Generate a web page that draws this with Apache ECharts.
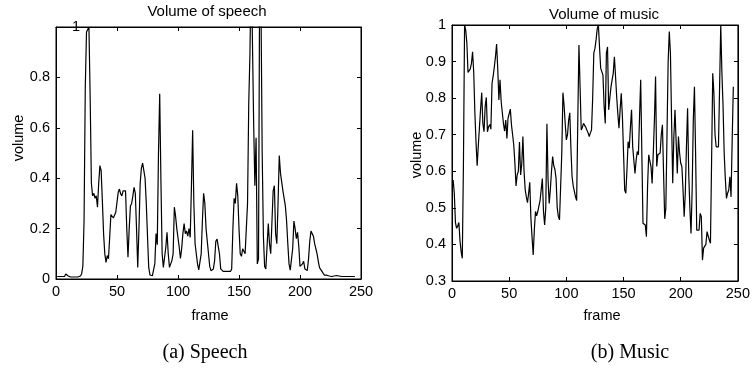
<!DOCTYPE html>
<html>
<head>
<meta charset="utf-8">
<script src="https://cdn.jsdelivr.net/npm/echarts@6/dist/echarts.min.js"></script>
<style>
html,body{margin:0;padding:0;background:#fff;}
#chart{width:753px;height:370px;}
</style>
</head>
<body>
<div id="chart"></div>
<script>
// Speech volume, frames 1..245
const speechVolume = [
0.01,0.012,0.01,0.012,0.01,0.008,0.01,0.02,0.018,0.012,
0.008,0.008,0.008,0.008,0.008,0.008,0.008,0.008,0.008,0.012,
0.02,0.05,0.23,0.76,0.98,0.98,1.0,0.72,0.38,0.33,
0.34,0.32,0.33,0.285,0.38,0.45,0.43,0.31,0.18,0.1,
0.066,0.093,0.08,0.165,0.256,0.25,0.242,0.245,0.265,0.305,
0.344,0.357,0.338,0.33,0.35,0.344,0.35,0.2,0.086,0.2,
0.29,0.3,0.33,0.364,0.34,0.2,0.046,0.2,0.38,0.44,
0.46,0.455,0.4,0.3,0.17,0.046,0.016,0.013,0.013,0.015,
0.06,0.18,0.136,0.5,0.735,0.39,0.1,0.046,0.044,0.126,
0.185,0.1,0.046,0.04,0.073,0.1,0.285,0.25,0.2,0.195,
0.126,0.082,0.12,0.18,0.22,0.18,0.19,0.17,0.2,0.165,
0.364,0.59,0.3,0.14,0.14,0.06,0.036,0.04,0.1,0.23,
0.34,0.3,0.2,0.15,0.1,0.05,0.033,0.033,0.04,0.073,
0.15,0.158,0.152,0.1,0.04,0.033,0.03,0.03,0.03,0.03,
0.03,0.03,0.03,0.04,0.2,0.32,0.3,0.38,0.33,0.2,
0.1,0.09,0.12,0.11,0.1,0.1,0.3,0.7,0.9,1.25,
0.95,0.62,0.37,0.56,0.06,0.08,1.3,1.1,0.5,0.17,
0.05,0.04,0.04,0.22,0.14,0.1,0.1,0.35,0.37,0.18,
0.14,0.3,0.49,0.42,0.42,0.35,0.32,0.29,0.23,0.14,
0.06,0.035,0.033,0.12,0.23,0.2,0.16,0.185,0.13,0.05,
0.046,0.06,0.07,0.04,0.036,0.034,0.08,0.15,0.19,0.19,
0.17,0.14,0.12,0.1,0.07,0.045,0.04,0.03,0.025,0.015,
0.013,0.015,0.014,0.012,0.012,0.01,0.014,0.012,0.01,0.014,
0.015,0.012,0.012,0.01,0.01,0.01,0.01,0.01,0.01,0.01,
0.01,0.01,0.01,0.01,0.01
];
// Music volume, frames 1..246
const musicVolume = [
0.576,0.54,0.46,0.444,0.45,0.46,0.41,0.38,0.362,0.62,
1.0,0.986,0.95,0.87,0.868,0.88,0.895,0.927,0.87,0.76,
0.68,0.615,0.67,0.72,0.77,0.815,0.73,0.708,0.777,0.802,
0.708,0.722,0.728,0.715,0.84,0.86,0.885,0.913,0.948,0.88,
0.795,0.85,0.79,0.76,0.73,0.71,0.74,0.69,0.745,0.74,
0.77,0.727,0.7,0.672,0.622,0.56,0.59,0.6,0.68,0.59,
0.62,0.695,0.6,0.55,0.53,0.514,0.54,0.57,0.47,0.42,
0.371,0.44,0.49,0.478,0.49,0.505,0.52,0.55,0.58,0.49,
0.453,0.5,0.73,0.576,0.512,0.55,0.6,0.64,0.615,0.605,
0.58,0.5,0.476,0.467,0.465,0.65,0.815,0.78,0.73,0.686,
0.7,0.74,0.76,0.66,0.585,0.56,0.545,0.53,0.52,0.74,
0.945,0.83,0.713,0.72,0.731,0.736,0.72,0.722,0.705,0.695,
0.705,0.713,0.8,0.923,0.936,0.96,0.99,1.0,0.94,0.882,
0.879,0.863,0.78,0.731,0.923,0.94,0.768,0.8,0.83,0.85,
0.868,0.913,0.859,0.804,0.758,0.718,0.768,0.813,0.75,0.65,
0.549,0.54,0.604,0.681,0.663,0.72,0.768,0.667,0.63,0.594,
0.63,0.654,0.645,0.75,0.85,0.65,0.458,0.455,0.453,0.421,
0.558,0.645,0.64,0.613,0.567,0.65,0.74,0.859,0.613,0.645,
0.648,0.65,0.7,0.727,0.594,0.47,0.5,0.7,0.9,0.982,
0.923,0.74,0.567,0.695,0.768,0.68,0.594,0.695,0.65,0.622,
0.613,0.55,0.476,0.54,0.667,0.772,0.594,0.5,0.43,0.55,
0.74,0.831,0.65,0.439,0.44,0.439,0.485,0.476,0.357,0.39,
0.394,0.4,0.435,0.43,0.412,0.403,0.63,0.868,0.813,0.7,
0.667,0.663,0.667,0.831,1.0,0.87,0.78,0.65,0.58,0.526,
0.54,0.549,0.585,0.53,0.686,0.831
];
const xTicks = [0, 50, 100, 150, 200, 250];
const speechYTicks = [0, 0.2, 0.4, 0.6, 0.8];
const musicYTicks = [0.3, 0.4, 0.5, 0.6, 0.7, 0.8, 0.9, 1];

const FONT = '"Liberation Sans", Arial, sans-serif';
const toPairs = arr => arr.map((v, i) => [i + 1, v]);

function xAxisCfg(gridIndex, top) {
  return {
    type: 'value', gridIndex, position: top ? 'top' : 'bottom',
    min: xTicks[0], max: xTicks[xTicks.length - 1], interval: xTicks[1] - xTicks[0],
    axisLine: { show: true, onZero: false, lineStyle: { color: '#000', width: 1 } },
    axisTick: { show: true, inside: true, length: 4, lineStyle: { color: '#000' } },
    axisLabel: { show: !top, color: '#000', fontFamily: FONT, fontSize: 14.5, margin: 5 },
    splitLine: { show: false }
  };
}
function yAxisCfg(gridIndex, right, ticks, hideMax) {
  const step = +(ticks[1] - ticks[0]).toFixed(4);
  return {
    type: 'value', gridIndex, position: right ? 'right' : 'left',
    min: ticks[0], max: hideMax ? 1 : ticks[ticks.length - 1], interval: step,
    axisLine: { show: true, onZero: false, lineStyle: { color: '#000', width: 1 } },
    axisTick: { show: true, inside: true, length: 4, lineStyle: { color: '#000' } },
    axisLabel: {
      show: !right, color: '#000', fontFamily: FONT, fontSize: 14.5, margin: 6,
      formatter: v => (hideMax && Math.abs(v - 1) < 1e-9) ? '' : String(+v.toFixed(2))
    },
    splitLine: { show: false }
  };
}
function txt(text, x, y, size, opts) {
  opts = opts || {};
  return {
    type: 'text', x, y, rotation: opts.rot || 0, silent: true,
    style: {
      text, fill: '#000', font: size + 'px ' + (opts.serif ? '"Liberation Serif", "Times New Roman", serif' : FONT),
      textAlign: 'center', textVerticalAlign: 'middle'
    }
  };
}

const chart = echarts.init(document.getElementById('chart'), null, { renderer: 'canvas' });
chart.setOption({
  animation: false,
  backgroundColor: '#fff',
  grid: [
    { left: 56, top: 27, width: 305, height: 252, show: true, borderColor: '#000', borderWidth: 1, containLabel: false },
    { left: 452, top: 25, width: 287, height: 256, show: true, borderColor: '#000', borderWidth: 1, containLabel: false }
  ],
  xAxis: [xAxisCfg(0, false), xAxisCfg(0, true), xAxisCfg(1, false), xAxisCfg(1, true)],
  yAxis: [yAxisCfg(0, false, speechYTicks, true), yAxisCfg(0, true, speechYTicks, true),
          yAxisCfg(1, false, musicYTicks, false), yAxisCfg(1, true, musicYTicks, false)],
  series: [
    { type: 'line', name: 'speech', xAxisIndex: 0, yAxisIndex: 0, data: toPairs(speechVolume),
      showSymbol: false, clip: true, lineStyle: { color: '#000', width: 1.2 } },
    { type: 'line', name: 'music', xAxisIndex: 2, yAxisIndex: 2, data: toPairs(musicVolume),
      showSymbol: false, clip: true, lineStyle: { color: '#000', width: 1.2 } }
  ],
  graphic: [
    txt('Volume of speech', 207, 12, 15),
    txt('Volume of music', 604, 15, 15),
    txt('1', 76, 27, 14.5),
    txt('volume', 19, 138, 14.5, { rot: Math.PI / 2 }),
    txt('volume', 417, 155, 14.5, { rot: Math.PI / 2 }),
    txt('frame', 210, 316, 14.5),
    txt('frame', 602, 316, 14.5),
    txt('(a) Speech', 205, 353, 20, { serif: true }),
    txt('(b) Music', 630, 353, 20, { serif: true })
  ]
});
</script>
</body>
</html>
